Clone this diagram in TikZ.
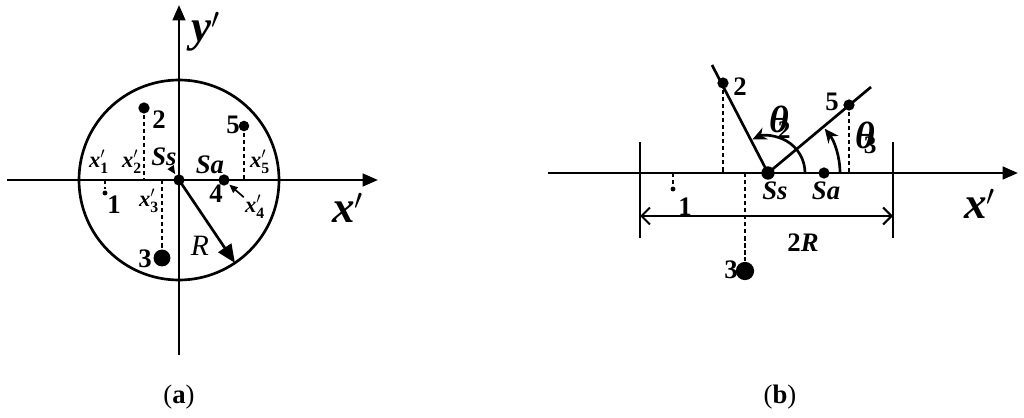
\documentclass[tikz,border=0pt]{standalone}
\usepackage{amsmath}
\usepackage{fontspec}
\setmainfont{Liberation Serif}
\usetikzlibrary{arrows.meta}

\newcommand{\xsub}[1]{\textbf{\textit{x}}$'_{\textbf{#1}}$}

\begin{document}
\begin{tikzpicture}[x=0.025cm, y=0.025cm, line width=1.9pt,
		dot_style/.style={circle,fill=black,inner sep=0pt,minimum size=#1},
		num_style/.style={font=\fontsize{19}{21}\selectfont\bfseries,inner sep=0pt},
		sym_style/.style={font=\fontsize{19}{21}\selectfont\bfseries\itshape,inner sep=0pt},
		sub_style/.style={font=\fontsize{16}{18}\selectfont,inner sep=0pt},
		axis_label/.style={font=\fontsize{32}{34}\selectfont\bfseries\itshape,inner sep=0pt},
		theta_style/.style={font=\fontsize{27}{29}\selectfont\bfseries,inner sep=0pt},
		axis_style/.style={draw=black,-{Triangle[length=11pt,width=9pt]}},
		dash_style/.style={draw=black,dash pattern=on 3pt off 2pt,line width=1.6pt},
		small_arrow/.style={draw=black,line width=1.2pt,-{Triangle[length=6pt,width=5pt]}},
		cap_style/.style={font=\fontsize{19}{21}\selectfont,inner sep=0pt}]

		\useasboundingbox (0,0) rectangle (1024,417);

		% (a) circle view
		\coordinate (axl) at (7,237);
		\coordinate (axr) at (378,237);
		\coordinate (ayb) at (179,62);
		\coordinate (ayt) at (179,412);
		\draw[axis_style] (axl) -- (axr);
		\draw[axis_style] (ayb) -- (ayt);
		\node[dot_style=8pt] (ass) at (179,237) {};
		\draw (ass.center) circle[radius=100];

		\node[dot_style=3.5pt] (a1) at (105,224) {};
		\node[dot_style=8pt] (a2) at (144,309) {};
		\node[dot_style=12pt] (a3) at (162,159) {};
		\node[dot_style=8pt] (a4) at (224,237) {};
		\node[dot_style=7.5pt] (a5) at (244,291) {};
		\coordinate (aq1) at (105,237);
		\coordinate (aq2) at (144,237);
		\coordinate (aq3) at (162,237);
		\coordinate (aq5) at (244,237);
		\draw[dash_style] (aq1) -- (a1);
		\draw[dash_style] (a2) -- (aq2);
		\draw[dash_style] (aq3) -- (a3);
		\draw[dash_style] (a5) -- (aq5);

		\node[num_style] (an1) at (114,212) {1};
		\node[num_style] (an2) at (159,297) {2};
		\node[num_style] (an3) at (145,158) {3};
		\node[num_style] (an4) at (216,223) {4};
		\node[num_style] (an5) at (233,292) {5};

		\node[sub_style] (ax1) at (99,255) {\xsub{1}};
		\node[sub_style] (ax2) at (132,255) {\xsub{2}};
		\node[sub_style] (ax3) at (149,216) {\xsub{3}};
		\node[sub_style] (ax4) at (255,210) {\xsub{4}};
		\node[sub_style] (ax5) at (260,255) {\xsub{5}};
		\draw[small_arrow] (ax4) -- (a4);

		\node[sym_style] (alss) at (164,260) {Ss};
		\node[sym_style] (alsa) at (210,252) {Sa};
		\draw[small_arrow] (alss) -- (ass);

		\path (ass.center) ++(-56:100) coordinate (ar);
		\draw[-{Triangle[length=13pt,width=11pt]}] (ass.center) -- (ar);
		\node[font=\fontsize{21}{23}\selectfont\itshape,inner sep=0pt] (alr) at (200,171) {R};

		\node[axis_label] (alx) at (348,209) {x$'$};
		\node[axis_label] (aly) at (206,385) {y$'$};
		\node[cap_style] (acap) at (179,20) {(\textbf{a})};

		% (b) side view
		\coordinate (bxl) at (548,244);
		\coordinate (bxr) at (1018,244);
		\draw[axis_style] (bxl) -- (bxr);
		\coordinate (bt1) at (640,275);
		\coordinate (bb1) at (640,179);
		\coordinate (bt2) at (893,275);
		\coordinate (bb2) at (893,179);
		\draw (bt1) -- (bb1);
		\draw (bt2) -- (bb2);
		\coordinate (bdl) at (640,201);
		\coordinate (bdr) at (893,201);
		\draw[line width=1.5pt,{Straight Barb[length=6pt,width=12pt]}-{Straight Barb[length=6pt,width=12pt]}] (bdl) -- (bdr);
		\node[num_style] (b2r) at (803,174) {2\textit{R}};

		\node[dot_style=9.5pt] (bss) at (768,244) {};
		\node[dot_style=8pt] (bsa) at (824,244) {};
		\coordinate (be2) at (712,352);
		\coordinate (be5) at (871,330);
		\draw (bss.center) -- (be2);
		\draw (bss.center) -- (be5);
		\node[dot_style=8pt] (b2) at (723,334) {};
		\node[dot_style=8pt] (b5) at (849,312) {};
		\node[dot_style=3.5pt] (b1) at (673,228) {};
		\node[dot_style=13pt] (b3) at (745,146) {};
		\coordinate (bq1) at (673,244);
		\coordinate (bq2) at (723,244);
		\coordinate (bq3) at (745,244);
		\coordinate (bq5) at (849,244);
		\draw[dash_style] (bq1) -- (b1);
		\draw[dash_style] (b2) -- (bq2);
		\draw[dash_style] (bq3) -- (b3);
		\draw[dash_style] (b5) -- (bq5);

		\draw[-{Stealth[length=10pt,width=9pt]}] ([shift={(0:37)}]bss.center) arc[start angle=0,end angle=115,radius=37];
		\draw[-{Stealth[length=10pt,width=9pt]}] ([shift={(0:72)}]bss.center) arc[start angle=0,end angle=38,radius=72];

		\node[num_style] (bn1) at (685,210) {1};
		\node[num_style] (bn2) at (740,330) {2};
		\node[num_style] (bn3) at (731,147) {3};
		\node[num_style] (bn5) at (832,315) {5};
		\node[sym_style] (blss) at (775,226) {Ss};
		\node[sym_style] (blsa) at (826,226) {Sa};
		\node[theta_style] (bth2) at (780,295) {\textit{θ}\kern-0.3em\raisebox{-0.15em}{\fontsize{18}{20}\selectfont 2}};
		\node[theta_style] (bth3) at (866,279) {\textit{θ}\kern-0.3em\raisebox{-0.15em}{\fontsize{18}{20}\selectfont 3}};

		\node[axis_label] (blx) at (980,213) {x$'$};
		\node[cap_style] (bcap) at (780,20) {(\textbf{b})};
\end{tikzpicture}
\end{document}
